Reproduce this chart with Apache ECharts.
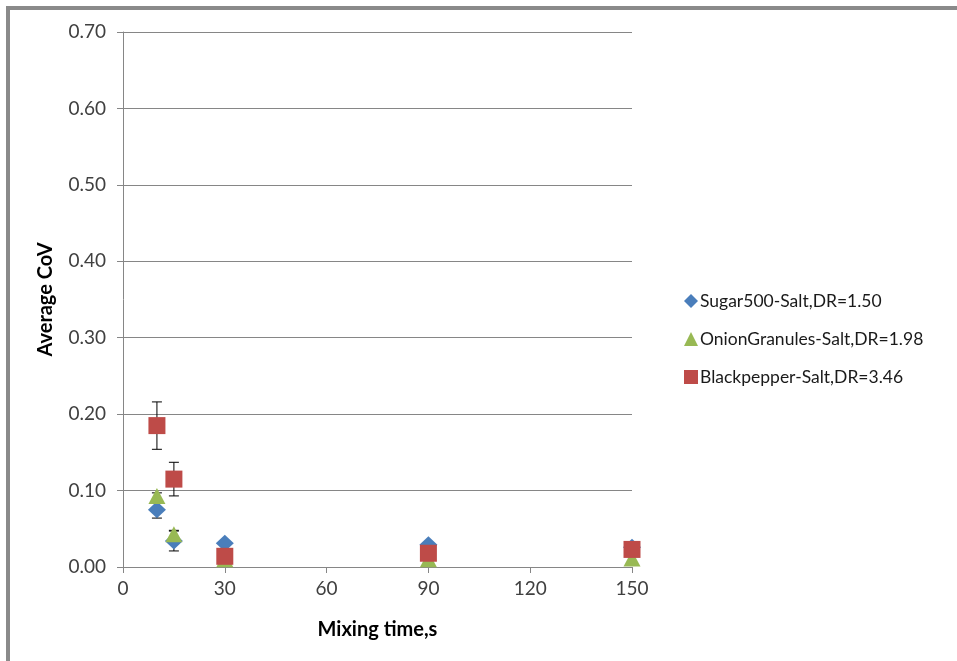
<!DOCTYPE html>
<html><head><meta charset="utf-8">
<script src="https://cdn.jsdelivr.net/npm/echarts@6/dist/echarts.min.js"></script>
<style>
html,body{margin:0;padding:0;background:#fff;}
#c{width:957px;height:661px;}
#frame{position:absolute;left:6px;top:6px;width:951px;height:655px;border-left:4px solid #8a8a8a;border-top:4px solid #8a8a8a;pointer-events:none;box-sizing:border-box;}
</style></head><body>
<div id="c"></div><div id="frame"></div>
<script>
const seriesNames = ['Sugar500-Salt,DR=1.50','OnionGranules-Salt,DR=1.98','Blackpepper-Salt,DR=3.46'];
const mixingTimes = [10, 15, 30, 90, 150];
const sugarCoV = [0.075, 0.034, 0.031, 0.029, 0.026];
const sugarErr = [0.011, 0.013, 0, 0, 0];
const onionCoV = [0.093, 0.043, 0.010, 0.010, 0.011];
const onionErr = [0.004, 0.005, 0, 0, 0];
const pepperCoV = [0.185, 0.115, 0.014, 0.018, 0.023];
const pepperErr = [0.031, 0.022, 0, 0, 0];
const xTicks = [0, 30, 60, 90, 120, 150];
const yTicks = [0, 0.1, 0.2, 0.3, 0.4, 0.5, 0.6, 0.7];

const colors = ['#4a7ebb', '#98b954', '#be4b48'];
const symbols = ['diamond', 'triangle', 'rect'];
const sizes = [[18,17],[17,16],[17,17]];
const allVals = [sugarCoV, onionCoV, pepperCoV];
const allErr = [sugarErr, onionErr, pepperErr];
const font = 'Lato, Carlito, "Open Sans", sans-serif';

function errSeries(vals, errs, z){
  return {
    type:'custom', silent:true, z:z,
    data: mixingTimes.map((x,i)=>[x, vals[i]-errs[i], vals[i]+errs[i]]).filter((d,i)=>errs[i]>0),
    renderItem:function(params, api){
      const lo = api.coord([api.value(0), api.value(1)]);
      const hi = api.coord([api.value(0), api.value(2)]);
      const w = 5;
      const st = {stroke:'#000', lineWidth:1};
      return {type:'group', children:[
        {type:'line', shape:{x1:lo[0],y1:lo[1],x2:hi[0],y2:hi[1]}, style:st},
        {type:'line', shape:{x1:lo[0]-w,y1:lo[1],x2:lo[0]+w,y2:lo[1]}, style:st},
        {type:'line', shape:{x1:hi[0]-w,y1:hi[1],x2:hi[0]+w,y2:hi[1]}, style:st}
      ]};
    }
  };
}

const series = [];
for (let s=0;s<3;s++){
  series.push(errSeries(allVals[s], allErr[s], 2+s*2));
  series.push({
    name: seriesNames[s], type:'scatter', z:3+s*2,
    symbol: symbols[s], symbolSize: sizes[s],
    itemStyle:{color:colors[s], opacity:1},
    data: mixingTimes.map((x,i)=>[x, allVals[s][i]])
  });
}

const chart = echarts.init(document.getElementById('c'));
chart.setOption({
  animation:false,
  backgroundColor:'#fff',
  grid:{left:123, right:325, top:32, bottom:94, containLabel:false},
  legend:{
    orient:'vertical', left:679, top:287, itemGap:20,
    itemWidth:14, itemHeight:14,
    data: seriesNames.map((n,i)=>({name:n, icon:symbols[i]})),
    itemStyle:{opacity:1},
    textStyle:{fontFamily:font, fontSize:17.5, color:'#1a1a1a', padding:[0,0,0,-3]}
  },
  xAxis:{
    type:'value', min:xTicks[0], max:xTicks[xTicks.length-1], interval:30,
    name:'Mixing time,s', nameLocation:'middle', nameGap:53,
    nameTextStyle:{fontFamily:font, fontSize:20, fontWeight:'bold', color:'#000'},
    axisLine:{show:true, lineStyle:{color:'#868686'}},
    axisTick:{show:true, length:6, lineStyle:{color:'#868686'}},
    axisLabel:{fontFamily:font, fontSize:19, color:'#404040', margin:12},
    splitLine:{show:false}
  },
  yAxis:{
    type:'value', min:yTicks[0], max:yTicks[yTicks.length-1], interval:0.1,
    name:'Average CoV', nameLocation:'middle', nameGap:67, nameRotate:90,
    nameTextStyle:{fontFamily:font, fontSize:20, fontWeight:'bold', color:'#000'},
    axisLine:{show:true, lineStyle:{color:'#868686'}},
    axisTick:{show:true, length:6, lineStyle:{color:'#868686'}},
    axisLabel:{fontFamily:font, fontSize:19, color:'#404040', margin:17, formatter:v=>v.toFixed(2)},
    splitLine:{show:true, lineStyle:{color:'#868686', width:1}}
  },
  series: series
});
</script></body></html>
